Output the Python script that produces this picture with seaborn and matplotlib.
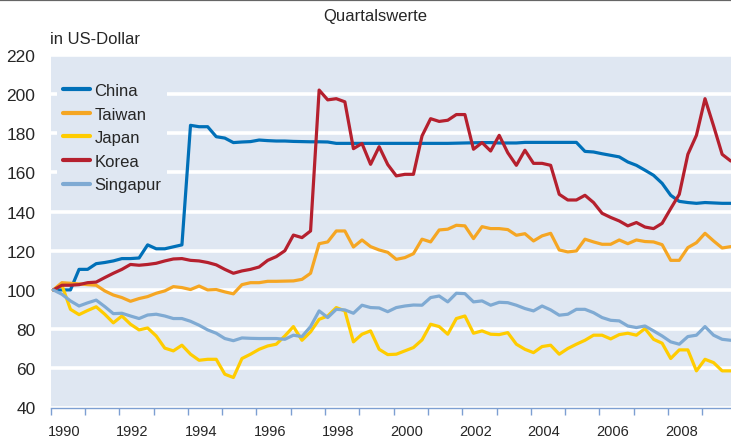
import numpy as np
import pandas as pd
import matplotlib
matplotlib.use("Agg")
import matplotlib.pyplot as plt
import seaborn as sns
from matplotlib.lines import Line2D

# ---------------- data (quarterly, 1990 Q1 = 100) ----------------
countries = ["China", "Taiwan", "Japan", "Korea", "Singapur"]
colors = ["#0070b8", "#f5a623", "#ffcc00", "#b5202e", "#7faad3"]

china = [100, 100, 100, 110.5, 110.5, 113.4, 114, 114.8, 116, 116, 116.3, 123, 121, 121, 122, 123,
         184, 183.3, 183.3, 178.2, 177.5, 175.2, 175.5, 175.7, 176.5, 176.2, 176,
         176, 175.8, 175.7, 175.6, 175.6, 175.5,
         174.8, 174.8, 174.8, 174.8, 174.8, 174.8, 174.8, 174.8, 174.8, 174.8, 174.8,
         174.8, 174.8, 174.8, 174.9, 175, 175.1, 175.2, 175.2, 175, 175, 175,
         175.3, 175.3, 175.3, 175.3, 175.3, 175.3, 175.3,
         170.7, 170.4, 169.5, 168.7, 167.9, 165.3, 163.6, 161.1, 158.5, 154.4, 148.3,
         145.2, 144.6, 144.2, 144.6, 144.4, 144.2, 144.2]

taiwan = [100, 103.7, 103.4, 103.1, 102.7, 102.4, 99.5, 97.4, 96.1, 94.2, 95.6, 96.6, 98.3, 99.5,
          101.7, 101.2, 100.2, 102, 100, 100.2, 99, 98, 102.7, 103.7, 103.7, 104.4, 104.4, 104.5,
          104.6, 105.4, 108.5, 123.6, 124.5, 130.1, 130.1, 121.9, 125.5, 122.1, 120.4, 119.2,
          115.6, 116.5, 118.5, 125.9, 124.5, 130.6, 131, 133, 132.7, 126.2, 132.3, 131.3, 131.3,
          130.8, 127.9, 128.7, 125, 127.6, 128.9, 120.4, 119.4, 119.9, 125.9, 124.5, 123.3, 123.3,
          125.5, 123.6, 125.5, 124.7, 124.5, 123.1, 115.1, 115.1, 121.6, 124.1, 128.9, 125, 121.4, 122.1]

japan = [100, 102.5, 90.1, 87.4, 89.5, 91.4, 87.6, 83.2, 86.7, 82.5, 79.6, 80.6, 76.5, 70.3,
         68.9, 71.8, 67.2, 64.1, 64.6, 64.6, 57, 55.3, 65, 67.2, 69.7, 71.4, 72.3, 76.5,
         81.3, 74.3, 78.6, 85, 86.7, 91, 89.3, 73.5, 77.4, 79.1, 69.7, 67,
         67.2, 68.9, 70.6, 74.5, 82.5, 81.3, 77.4, 85.4, 86.7, 77.9, 79.1, 77.4, 77.2,
         78.2, 72.3, 69.7, 68, 71.1, 71.8, 67.2, 70.1, 72.3, 74.3, 76.9, 76.9, 75,
         77.2, 77.9, 76.9, 80.3, 74.8, 72.8, 65, 69.4, 69.4, 58.7, 64.6, 62.9, 58.7, 58.7]

korea = [100, 102.4, 102.4, 102.7, 103.7, 104, 106.3, 108.5, 110.5, 113, 112.6, 113, 113.6, 114.8,
         115.8, 116, 115.1, 114.8, 114, 112.8, 110.5, 108.5, 109.7, 110.5, 111.7, 115.1, 117, 120,
         128, 126.7, 130.1, 202, 197, 197.6, 196, 172.1, 174.7, 164.1, 173.1, 164,
         158.2, 159, 159, 178.6, 187.4, 186, 186.6, 189.5, 189.5, 171.8, 175.2, 170.9, 178.9,
         170, 163.6, 171.3, 164.6, 164.6, 163.6, 148.8, 145.9, 145.9, 148.3, 144.6, 139.1, 137,
         135.2, 132.7, 134.4, 132.1, 131.3, 134, 141.5, 148.8, 169.2, 178.9, 197.6, 183.7, 169.2, 165.8]

singapur = [100, 97.8, 94.4, 91.8, 93.4, 94.8, 91.5, 87.9, 88.1, 86.7, 85.4, 87.2, 87.6, 86.7,
            85.4, 85.4, 84, 82, 79.6, 77.9, 75.2, 74.1, 75.5, 75.3, 75.2, 75.2, 75.2, 74.8,
            76.9, 76.2, 81.3, 89.3, 85.9, 90.1, 89.8, 88.1, 92.2, 91, 90.8, 88.9,
            91, 91.8, 92.3, 92.2, 96.1, 96.9, 93.9, 98.3, 98.1, 93.9, 94.4, 92.2, 93.7,
            93.5, 92.2, 90.5, 89.3, 91.8, 89.8, 87.1, 87.6, 90.1, 90.1, 88.4, 85.9, 84.5,
            84.2, 81.6, 80.8, 81.6, 79.1, 76.5, 73.5, 72.3, 76.2, 76.9, 81.3, 76.9, 74.8, 74.3]

series = [china, taiwan, japan, korea, singapur]
n = len(china)
quarters = 1990 + np.arange(n) / 4.0
x_shift = 0.076            # points sit slightly right of the year tick
year_ticks = np.arange(1990, 2010)
label_years = np.arange(1990, 2010, 2)
y_ticks = np.arange(40, 221, 20)

df = pd.DataFrame({
    "x": np.tile(quarters + x_shift, len(countries)),
    "value": np.concatenate([np.asarray(s, float) for s in series]),
    "country": np.repeat(countries, n),
})

# ---------------- style ----------------
bg = "#dfe7f2"
axis_col = "#7d9fd2"
sns.set_style("white", {"axes.facecolor": bg})
plt.rcParams["font.family"] = ["Liberation Sans", "DejaVu Sans"]

W, H = 731, 439
fig = plt.figure(figsize=(W / 100, H / 100), dpi=100)
ax = fig.add_axes([50.7 / W, (H - 408.5) / H, 1 - 50.7 / W, (408.5 - 55.8) / H])
ax.set_facecolor(bg)

sns.lineplot(data=df, x="x", y="value", hue="country", hue_order=countries,
             palette=colors, linewidth=2.3, estimator=None, sort=False,
             legend=False, ax=ax)

ax.set_xlim(1990, 1990 + (W - 50.7) / 34.3)
ax.set_ylim(40, 220)
ax.set_xlabel("")
ax.set_ylabel("")

ax.set_xticks(year_ticks)
ax.set_xticklabels([""] * len(year_ticks))
ax.set_xticks(label_years + 0.385, minor=True)
ax.set_xticklabels([str(y) for y in label_years], minor=True, fontsize=10.5)
ax.tick_params(axis="x", which="major", bottom=True, length=5, width=1,
               color=axis_col, direction="out")
ax.tick_params(axis="x", which="minor", bottom=True, length=0, pad=12)

ax.set_yticks(y_ticks)
ax.set_yticklabels([str(v) for v in y_ticks], fontsize=12.5)
ax.tick_params(axis="y", length=0, pad=11)

ax.grid(axis="y", color="white", linewidth=2.6)
ax.grid(axis="x", visible=False)
ax.set_axisbelow(True)
for s in ["left", "right", "top"]:
    ax.spines[s].set_visible(False)
ax.spines["bottom"].set_color(axis_col)
ax.spines["bottom"].set_linewidth(1)

handles = [Line2D([], [], color=c, linewidth=3) for c in colors]
leg = ax.legend(handles, countries, loc="upper left",
                bbox_to_anchor=(57 / W, 1 - 78 / H), bbox_transform=fig.transFigure,
                frameon=True, facecolor=bg, edgecolor="none", framealpha=1,
                fancybox=False, fontsize=12, handlelength=1.65, handletextpad=0.25,
                labelspacing=0.52, borderpad=0.35, borderaxespad=0)

fig.text(375 / W, 1 - 17 / H, "Quartalswerte", ha="center", va="center", fontsize=12)
fig.text(50 / W, 1 - 40 / H, "in US-Dollar", ha="left", va="center", fontsize=12)
fig.add_artist(Line2D([0, 1], [1 - 1 / H, 1 - 1 / H], color="#666666", linewidth=1.6,
                      transform=fig.transFigure))

fig.savefig("out.png", dpi=100)
